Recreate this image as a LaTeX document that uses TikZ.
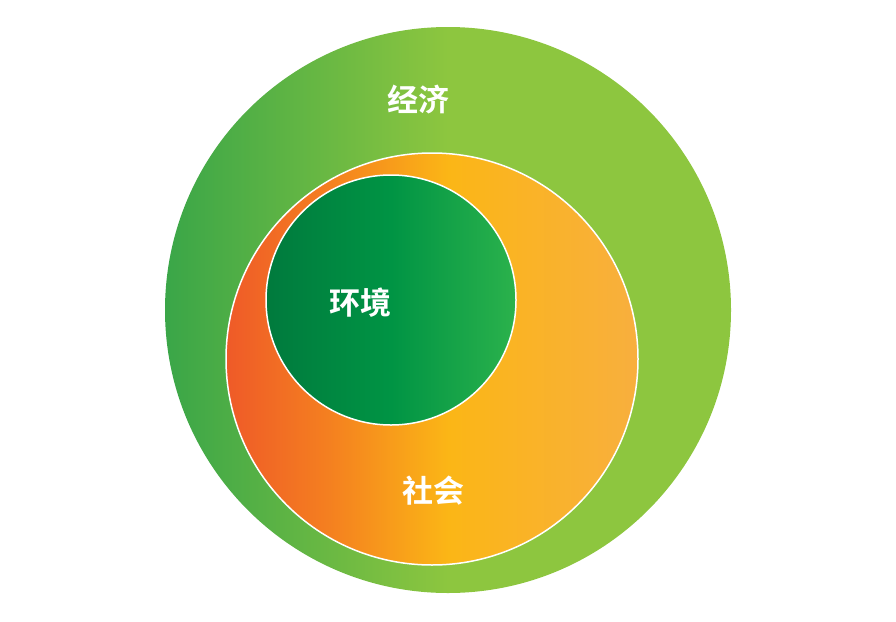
\documentclass[tikz,border=0pt]{standalone}
\usepackage{fontspec}
\newfontfamily\cjk{Noto Sans CJK SC}[BoldFont=* Bold]
\usepackage{tikz}
\usetikzlibrary{shapes,positioning}
\definecolor{econleft}{HTML}{3AA648}
\definecolor{econright}{HTML}{8DC63F}
\definecolor{socred}{HTML}{EF5A28}
\definecolor{socorange}{HTML}{F47E20}
\definecolor{socyellow}{HTML}{FBB616}
\definecolor{socright}{HTML}{F8AF3E}
\definecolor{envleft}{HTML}{007A3D}
\definecolor{envmid}{HTML}{009444}
\definecolor{envright}{HTML}{2BB24C}
\pgfdeclarehorizontalshading{econshade}{100bp}{color(0bp)=(econleft); color(25bp)=(econleft);
  color(50bp)=(econright); color(100bp)=(econright)}
\pgfdeclarehorizontalshading{socshade}{100bp}{color(0bp)=(socred); color(25bp)=(socred);
  color(37bp)=(socorange); color(52bp)=(socyellow); color(75bp)=(socright); color(100bp)=(socright)}
\pgfdeclarehorizontalshading{envshade}{100bp}{color(0bp)=(envleft); color(25bp)=(envleft);
  color(50bp)=(envmid); color(75bp)=(envright); color(100bp)=(envright)}
\tikzset{
  ring/.style={circle,inner sep=0pt,draw=white,line width=1.5pt},
  label/.style={text=white,font=\cjk\bfseries\fontsize{31}{31}\selectfont}
}

\begin{document}
\begin{tikzpicture}[x=1pt,y=-1pt]
    \useasboundingbox (0,0) rectangle (896,621);

    \node (econ) [ring,draw=none,minimum size=566pt,shading=econshade] at (448,310) {};
    \node (soc) [ring,minimum size=412pt,shading=socshade] at (432,359) {};
    \node (env) [ring,minimum size=250pt,shading=envshade] at (391,300) {};

    \node (econlabel) [label] at (418,100) {经济};
    \node (envlabel) [label] at (360,303) {环境};
    \node (soclabel) [label] at (433,491) {社会};
\end{tikzpicture}
\end{document}
